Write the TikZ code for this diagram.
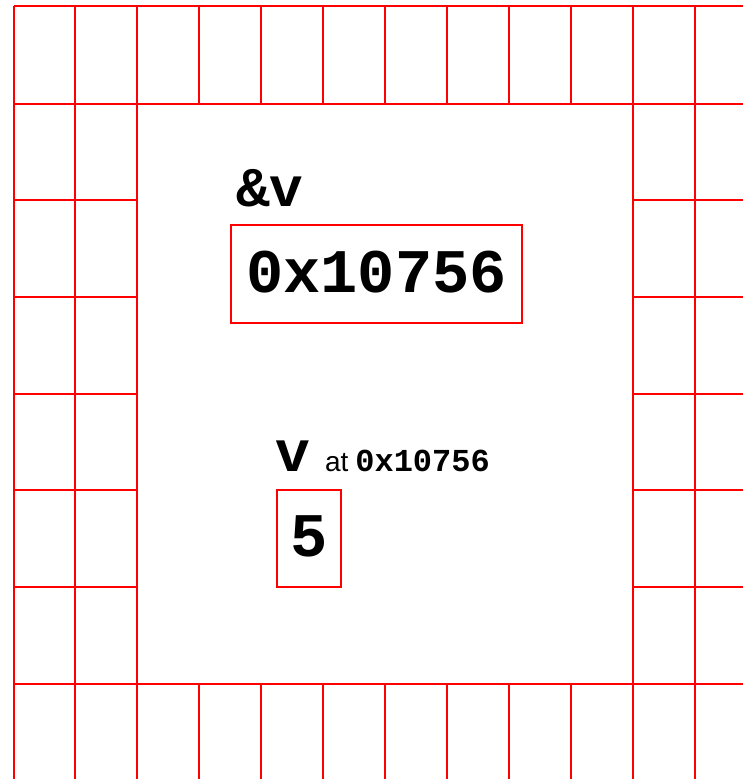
\documentclass[tikz,border=0pt]{standalone}
\usepackage{fontspec}
\setmainfont{Liberation Sans}
\newfontfamily\monob{Liberation Mono}[BoldFont=* Bold]
\begin{document}
\begin{tikzpicture}[x=1pt,y=-1pt,
  gridline/.style={draw=red,line width=1.6pt},
  valbox/.style={draw=red,line width=1.3pt},
  valtext/.style={inner sep=0pt,anchor=base,font=\monob\bfseries\fontsize{62}{62}\selectfont},
  labtext/.style={inner sep=0pt,anchor=base west,font=\monob\bfseries\fontsize{56}{56}\selectfont}]
\useasboundingbox (0,0) rectangle (743,779);
% horizontal lines full width
\foreach \y in {6,103.7,684} \draw[gridline] (13.8,\y) -- (743,\y);
% left and right middle rows
\foreach \y in {200,297,394,490,587} {
  \draw[gridline] (13.8,\y) -- (137,\y);
  \draw[gridline] (633,\y) -- (743,\y);
}
% full height verticals
\foreach \x in {13.8,75,137,633,695} \draw[gridline] (\x,6) -- (\x,779);
% top and bottom row verticals
\foreach \x in {199,261,323,385,447,509,571} {
  \draw[gridline] (\x,6) -- (\x,103.7);
  \draw[gridline] (\x,684) -- (\x,779);
}
% pointer variable
\node[labtext] (pl) at (236,206) {\&v};
\draw[valbox] (231,225) rectangle (522,323);
\node[valtext] (pv) at (376.5,292) {0x10756};
% variable v
\node[inner sep=0pt,anchor=base west] (vl) at (275,471)
  {{\monob\bfseries\fontsize{58}{58}\selectfont v}\hspace{15pt}{\fontsize{28}{28}\selectfont at}\hspace{7pt}{\monob\bfseries\fontsize{32}{32}\selectfont 0x10756}};
\draw[valbox] (277,490) rectangle (341,587);
\node[valtext] (vv) at (309,556) {5};
\end{tikzpicture}
\end{document}
